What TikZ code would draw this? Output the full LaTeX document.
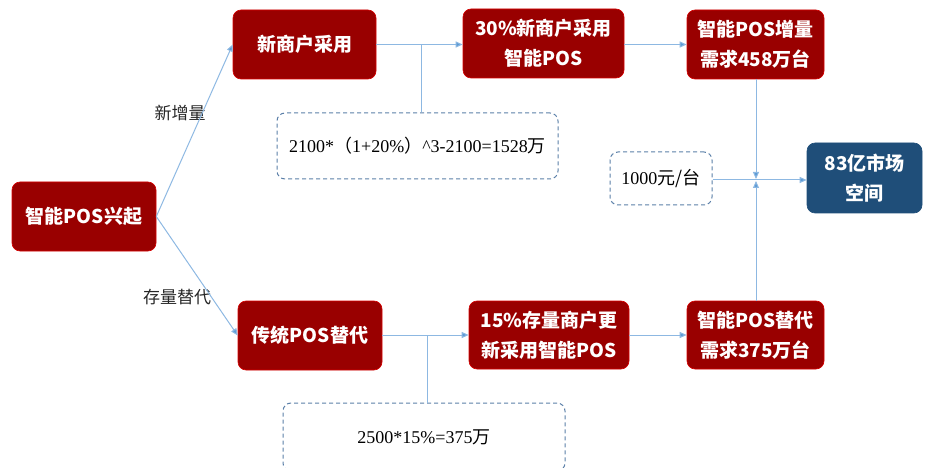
\documentclass[tikz,border=0pt]{standalone}
\usepackage{fontspec}
\setmainfont{Liberation Serif}
\newfontfamily\cjk{Noto Sans CJK SC}
\usetikzlibrary{arrows.meta}
\definecolor{boxred}{HTML}{990000}
\definecolor{boxblue}{HTML}{1F4E79}
\definecolor{linkblue}{HTML}{8DB8E2}
\definecolor{tipblue}{HTML}{5B9BD5}
\definecolor{dashblue}{HTML}{5A7FA8}
\tikzset{
  redbox/.style={rectangle, rounded corners=8pt, fill=boxred, draw=red!60!boxred, line width=0.6pt,
    text=white, font=\cjk\bfseries\fontsize{19}{30}\selectfont, align=center, inner sep=0pt},
  bluebox/.style={redbox, fill=boxblue, draw=boxblue},
  dashbox/.style={rectangle, rounded corners=8pt, draw=dashblue, dash pattern=on 4pt off 3pt,
    line width=1pt, text=black, align=center, inner sep=0pt},
  link/.style={draw=linkblue, line width=1pt},
  arr/.style={link, -{Triangle[length=7pt,width=6pt,fill=tipblue]}},
  lbl/.style={font=\cjk\fontsize{17}{19}\selectfont, text=black!85}
}
\begin{document}
\begin{tikzpicture}[x=1pt,y=-1pt]
\useasboundingbox (0,0) rectangle (946,468);
\begin{scope}
\clip (0,0) rectangle (946,468);
% nodes
\node[redbox, minimum width=144pt, minimum height=69pt] (rise) at (84,216.5) {智能POS兴起};
\node[redbox, minimum width=143pt, minimum height=69pt] (newm) at (304.5,44.5) {新商户采用};
\node[redbox, minimum width=161pt, minimum height=69pt] (adopt) at (543.5,43.5) {30\%新商户采用\\智能POS};
\node[redbox, minimum width=137pt, minimum height=69pt] (inc) at (755.5,44.5) {智能POS增量\\需求458万台};
\node[redbox, minimum width=144pt, minimum height=69pt] (trad) at (310,335.5) {传统POS替代};
\node[redbox, minimum width=160pt, minimum height=68pt] (upd) at (549,335) {15\%存量商户更\\新采用智能POS};
\node[redbox, minimum width=137pt, minimum height=68pt] (rep) at (755.5,335) {智能POS替代\\需求375万台};
\node[bluebox, minimum width=115pt, minimum height=70pt] (mkt) at (864.5,178) {83亿市场\\空间};
\node[dashbox, minimum width=281pt, minimum height=66pt, font=\fontsize{18}{21}\selectfont] (f1) at (417.5,146)
  {2100*{\cjk （}1+20\%{\cjk ）}\^{}3-2100=1528{\cjk 万}};
\node[dashbox, minimum width=102pt, minimum height=53pt, font=\fontsize{18}{21}\selectfont] (price) at (661,178.5)
  {1000{\cjk 元/台}};
\node[dashbox, minimum width=282pt, minimum height=68pt, font=\fontsize{18}{21}\selectfont] (f2) at (424,437)
  {2500*15\%=375{\cjk 万}};
% labels
\node[lbl] (l1) at (180,113) {新增量};
\node[lbl] (l2) at (177,297) {存量替代};
% coordinates
\coordinate (j1) at (421,44.5);
\coordinate (j2) at (427,335);
\coordinate (jt) at (756,179);
\coordinate (jb) at (756,181);
\coordinate (jm) at (756,180);
% connectors
\draw[arr] (rise.east) -- (newm.west);
\draw[arr] (rise.east) -- (trad.west);
\draw[arr] (newm.east) -- (adopt.west |- newm.east);
\draw[link] (f1.north -| j1) -- (j1);
\draw[arr] (adopt.east |- inc.west) -- (inc.west);
\draw[arr] (trad.east |- upd.west) -- (upd.west);
\draw[link] (f2.north -| j2) -- (j2);
\draw[arr] (upd.east) -- (rep.west);
\draw[arr] (inc.south -| jt) -- (jt);
\draw[arr] (rep.north -| jb) -- (jb);
\draw[arr] (price.east |- jm) -- (mkt.west |- jm);
\end{scope}
\end{tikzpicture}
\end{document}
